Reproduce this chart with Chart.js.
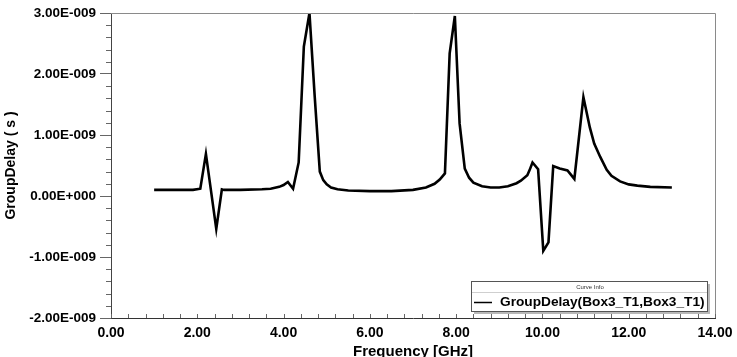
<!DOCTYPE html>
<html>
<head>
<meta charset="utf-8">
<script src="https://cdn.jsdelivr.net/npm/chart.js@4/dist/chart.umd.min.js"></script>
<style>
  html, body { margin: 0; padding: 0; background: #fff; }
  #wrap { width: 737px; height: 357px; }
</style>
</head>
<body>
<div id="wrap"><canvas id="c" width="737" height="357"></canvas></div>
<script>
// Frequency samples (GHz)
const freqGHz = [1.0, 1.5, 1.9, 2.07, 2.2, 2.44, 2.57, 2.62, 3.0, 3.5, 3.7, 3.9, 4.0, 4.1, 4.22, 4.35, 4.47, 4.6, 4.72, 4.84, 4.92, 5.0, 5.1, 5.25, 5.5, 6.0, 6.5, 7.0, 7.3, 7.5, 7.62, 7.74, 7.85, 7.97, 8.08, 8.2, 8.3, 8.4, 8.6, 8.8, 9.0, 9.2, 9.4, 9.5, 9.65, 9.7, 9.77, 9.9, 10.02, 10.14, 10.25, 10.4, 10.58, 10.74, 10.95, 11.1, 11.2, 11.34, 11.49, 11.6, 11.8, 12.0, 12.2, 12.5, 13.0];
// Group delay values (ns, i.e. x 1E-009 s)
const groupDelayNs = [0.10, 0.10, 0.10, 0.12, 0.69, -0.54, 0.11, 0.10, 0.10, 0.11, 0.12, 0.15, 0.18, 0.23, 0.12, 0.55, 2.45, 3.0, 1.65, 0.40, 0.26, 0.19, 0.14, 0.11, 0.09, 0.08, 0.08, 0.10, 0.14, 0.20, 0.27, 0.37, 2.34, 2.95, 1.19, 0.45, 0.30, 0.22, 0.16, 0.14, 0.14, 0.16, 0.21, 0.25, 0.34, 0.42, 0.55, 0.44, -0.90, -0.76, 0.49, 0.45, 0.42, 0.28, 1.62, 1.12, 0.86, 0.64, 0.43, 0.33, 0.24, 0.19, 0.17, 0.15, 0.14];
// Axis tick values
const xTicks = [0, 2, 4, 6, 8, 10, 12, 14];
const yTicks = [-2, -1, 0, 1, 2, 3];
const seriesName = 'GroupDelay(Box3_T1,Box3_T1)';
const legendTitle = 'Curve Info';

const FONT = '"Liberation Sans", Arial, sans-serif';

function fmtExp(vNs) {
  const s = vNs * 1e-9;
  let str = s.toExponential(2); // e.g. 3.00e-9
  let [m, e] = str.split('e');
  const sign = e[0] === '-' ? '-' : '+';
  const digits = e.replace(/[+-]/, '').padStart(3, '0');
  return m + 'E' + sign + digits;
}

const decorPlugin = {
  id: 'decor',
  afterDraw(chart) {
    const ctx = chart.ctx;
    const ca = chart.chartArea;
    const xs = chart.scales.x, ys = chart.scales.y;
    ctx.save();
    // top and right frame
    ctx.strokeStyle = '#8a8a8a';
    ctx.lineWidth = 1;
    ctx.beginPath();
    ctx.moveTo(ca.left, ca.top + 0.5);
    ctx.lineTo(ca.right + 0.5, ca.top + 0.5);
    ctx.lineTo(ca.right + 0.5, ca.bottom);
    ctx.stroke();
    // y minor ticks
    ctx.strokeStyle = '#666';
    ctx.beginPath();
    for (let k = 0; k <= 25; k++) {
      if (k % 5 === 0) continue;
      const v = yTicks[0] + k * 0.2;
      const py = Math.round(ys.getPixelForValue(v)) + 0.5;
      ctx.moveTo(ca.left - 5, py);
      ctx.lineTo(ca.left, py);
    }
    ctx.stroke();
    // x ticks (inward)
    ctx.beginPath();
    for (let k = 0; k <= 35; k++) {
      const v = k * 0.4;
      const px = Math.round(xs.getPixelForValue(v)) + 0.5;
      ctx.moveTo(px, ca.bottom);
      ctx.lineTo(px, ca.bottom - 4);
    }
    ctx.stroke();

    // Legend box (Curve Info)
    const bx = 471, by = 281, bw = 236, bh = 30;
    ctx.fillStyle = '#b8b8b8';
    ctx.fillRect(bx + 3, by + 3, bw, bh);
    ctx.fillStyle = '#fff';
    ctx.fillRect(bx, by, bw, bh);
    ctx.strokeStyle = '#555';
    ctx.lineWidth = 1;
    ctx.strokeRect(bx + 0.5, by + 0.5, bw, bh);
    ctx.strokeStyle = '#cfcfcf';
    ctx.beginPath();
    ctx.moveTo(bx + 1, by + 11.5);
    ctx.lineTo(bx + bw, by + 11.5);
    ctx.stroke();
    ctx.fillStyle = '#333';
    ctx.font = '6px ' + FONT;
    ctx.textAlign = 'center';
    ctx.textBaseline = 'middle';
    ctx.fillText(legendTitle, bx + bw / 2 + 1, by + 6);
    ctx.strokeStyle = '#000';
    ctx.lineWidth = 1.5;
    ctx.beginPath();
    ctx.moveTo(bx + 3, by + 21.5);
    ctx.lineTo(bx + 21, by + 21.5);
    ctx.stroke();
    ctx.fillStyle = '#000';
    ctx.font = 'bold 13.7px ' + FONT;
    ctx.textAlign = 'left';
    ctx.textBaseline = 'middle';
    ctx.fillText(seriesName, bx + 29, by + 21);
    ctx.restore();
  }
};

new Chart(document.getElementById('c'), {
  type: 'line',
  data: {
    datasets: [{
      label: seriesName,
      data: freqGHz.map((f, i) => ({ x: f, y: groupDelayNs[i] })),
      borderColor: '#000',
      borderWidth: 2.6,
      pointRadius: 0,
      tension: 0,
      fill: false
    }]
  },
  options: {
    responsive: false,
    devicePixelRatio: 1,
    animation: false,
    layout: { padding: { left: 0, top: 13, right: 22, bottom: 0 } },
    plugins: { legend: { display: false }, tooltip: { enabled: false } },
    scales: {
      x: {
        type: 'linear',
        min: 0, max: 14,
        afterBuildTicks: (s) => { s.ticks = xTicks.map(v => ({ value: v })); },
        afterFit: (s) => { s.height = 39; },
        ticks: {
          callback: (v) => Number(v).toFixed(2),
          color: '#000',
          font: { family: FONT, size: 14, weight: 'bold' },
          padding: 4,
          maxRotation: 0,
          autoSkip: false
        },
        grid: { display: true, drawOnChartArea: false, drawTicks: true, tickLength: 3, tickColor: 'rgba(0,0,0,0)' },
        border: { display: true, color: '#333', width: 1 },
        title: {
          display: true,
          text: 'Frequency [GHz]',
          color: '#000',
          font: { family: FONT, size: 15, weight: 'bold', lineHeight: 1 },
          padding: { top: 0, bottom: -2 }
        }
      },
      y: {
        type: 'linear',
        min: -2, max: 3,
        afterBuildTicks: (s) => { s.ticks = yTicks.map(v => ({ value: v })); },
        afterFit: (s) => { s.width = 111; },
        ticks: {
          callback: (v) => fmtExp(v),
          color: '#000',
          font: { family: FONT, size: 13.5, weight: 'bold' },
          padding: 4,
          autoSkip: false
        },
        grid: { display: true, drawOnChartArea: false, drawTicks: true, tickLength: 11, tickColor: '#666' },
        border: { display: true, color: '#444', width: 1 },
        title: {
          display: true,
          text: 'GroupDelay ( s )',
          color: '#000',
          font: { family: FONT, size: 14, weight: 'bold', lineHeight: 1 },
          padding: { top: 4, bottom: 0 }
        }
      }
    }
  },
  plugins: [decorPlugin]
});
</script>
</body>
</html>
